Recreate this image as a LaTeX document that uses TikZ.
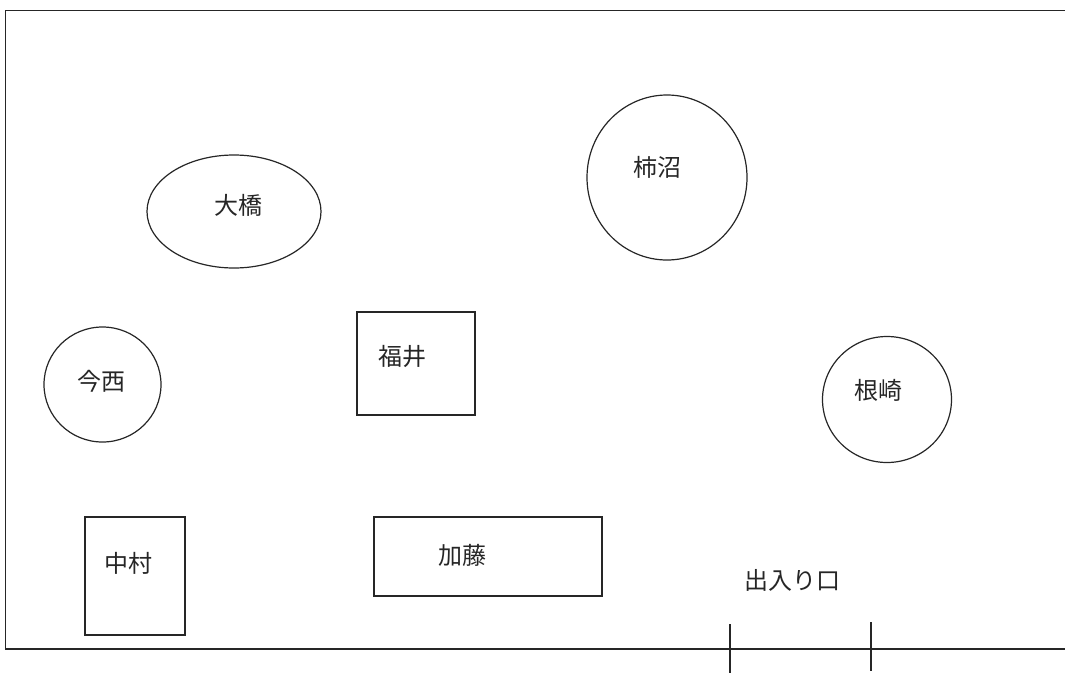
\documentclass[tikz,border=0pt]{standalone}
\usepackage{fontspec}
\newfontfamily\cjk{Noto Sans CJK JP}
\usetikzlibrary{shapes.geometric}
\begin{document}
\begin{tikzpicture}[x=1pt,y=-1pt,
  wall/.style={draw=black!85,line width=1.6pt},
  seat/.style={draw=black!85,line width=1.2pt,inner sep=0pt},
  oval/.style={seat,ellipse},
  desk/.style={seat,rectangle},
  lbl/.style={font=\cjk\fontsize{24}{28}\selectfont,inner sep=0pt,text=black!85}]
\useasboundingbox (0,0) rectangle (1065,673);
% room walls
\coordinate (tr) at (1065,10.5);
\coordinate (tl) at (5.5,10.5);
\coordinate (bl) at (5.5,649);
\coordinate (br) at (1065,649);
\draw[wall] (tr) -- (tl) -- (bl) -- (br);
% door marks
\coordinate (d1t) at (730,624);
\coordinate (d1b) at (730,673);
\coordinate (d2t) at (871,622);
\coordinate (d2b) at (871,671);
\draw[seat] (d1t) -- (d1b);
\draw[seat] (d2t) -- (d2b);
\node[lbl] (door) at (792,580) {出入り口};
% seats
\node[oval,minimum width=174pt,minimum height=113pt] (ohashi) at (234,211.5) {};
\node[lbl] (tohashi) at (238,205) {大橋};
\node[oval,minimum width=160pt,minimum height=165pt] (kakinuma) at (667,177.5) {};
\node[lbl] (tkakinuma) at (657,167) {柿沼};
\node[oval,minimum width=117pt,minimum height=115pt] (imanishi) at (102.5,384.5) {};
\node[lbl] (timanishi) at (101,381) {今西};
\node[desk,minimum width=118pt,minimum height=103pt] (fukui) at (416,363.5) {};
\node[lbl] (tfukui) at (402,356) {福井};
\node[oval,minimum width=129pt,minimum height=126pt] (nezaki) at (887,399.5) {};
\node[lbl] (tnezaki) at (878,390) {根崎};
\node[desk,minimum width=100pt,minimum height=118pt] (nakamura) at (135,576) {};
\node[lbl] (tnakamura) at (128,563) {中村};
\node[desk,minimum width=228pt,minimum height=79pt] (kato) at (488,556.5) {};
\node[lbl] (tkato) at (462,555) {加藤};
\end{tikzpicture}
\end{document}
